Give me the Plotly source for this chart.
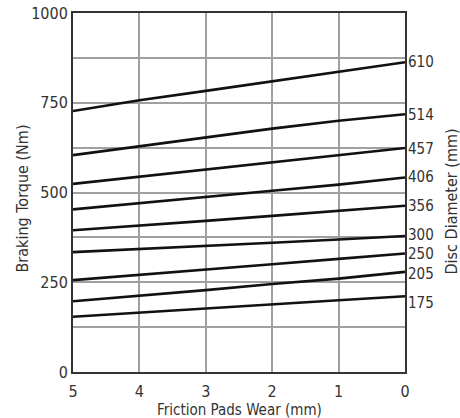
import plotly.graph_objects as go

wear = [5, 4, 3, 2, 1, 0]
diameters = ["610", "514", "457", "406", "356", "300", "250", "205", "175"]
torque_610 = [727, 757, 783, 810, 838, 863]
torque_514 = [604, 629, 653, 678, 700, 718]
torque_457 = [524, 544, 563, 583, 602, 624]
torque_406 = [453, 471, 488, 505, 522, 542]
torque_356 = [395, 407, 421, 435, 448, 463]
torque_300 = [334, 342, 351, 360, 369, 379]
torque_250 = [256, 270, 285, 300, 315, 330]
torque_205 = [197, 212, 228, 245, 260, 279]
torque_175 = [154, 166, 177, 188, 200, 211]
series = [torque_610, torque_514, torque_457, torque_406, torque_356,
          torque_300, torque_250, torque_205, torque_175]
y_tickvals = [0, 125, 250, 375, 500, 625, 750, 875, 1000]
y_ticktext = ["0", "", "250", "", "500", "", "750", "", "1000"]
x_tickvals = [5, 4, 3, 2, 1, 0]

FONT = "DejaVu Sans Condensed, sans-serif"
TXT = "#333333"
label_shift = [0, -1, -1, 0, 0, 1, 0, -2, -7]

fig = go.Figure()
for name, vals in zip(diameters, series):
    fig.add_trace(go.Scatter(x=wear, y=vals, mode="lines", name=name,
                             line=dict(color="#111111", width=2.6),
                             showlegend=False, hoverinfo="skip"))

for name, vals, sh in zip(diameters, series, label_shift):
    fig.add_annotation(x=0, y=vals[-1], text=name, showarrow=False,
                       xanchor="left", yanchor="middle", xshift=1, yshift=sh,
                       font=dict(family=FONT, size=15, color=TXT))

fig.add_annotation(xref="paper", yref="paper", x=1.0, y=0.5, xshift=46, yshift=-9,
                   text="Disc Diameter (mm)", textangle=-90, showarrow=False,
                   xanchor="center", yanchor="middle",
                   font=dict(family=FONT, size=16, color=TXT))
fig.add_annotation(xref="paper", yref="paper", x=0.0, y=0.5, xshift=-51, yshift=-6,
                   text="Braking Torque (Nm)", textangle=-90, showarrow=False,
                   xanchor="center", yanchor="middle",
                   font=dict(family=FONT, size=16, color=TXT))
fig.add_annotation(xref="paper", yref="paper", x=0.5, y=0.0, yshift=-38,
                   text="Friction Pads Wear (mm)", showarrow=False,
                   xanchor="center", yanchor="middle",
                   font=dict(family=FONT, size=15, color=TXT))

fig.update_xaxes(range=[5, 0], tickvals=x_tickvals, automargin=False,
                 showgrid=True, gridcolor="#a0a0a0", gridwidth=2,
                 showline=True, linecolor="#333333", linewidth=2, mirror=True,
                 zeroline=False, ticks="outside", ticklen=4, tickcolor="rgba(0,0,0,0)",
                 tickfont=dict(family=FONT, size=16, color=TXT))
fig.update_yaxes(range=[0, 1000], tickvals=y_tickvals, ticktext=y_ticktext,
                 automargin=False,
                 showgrid=True, gridcolor="#a0a0a0", gridwidth=2,
                 showline=True, linecolor="#333333", linewidth=2, mirror=True,
                 zeroline=False, ticks="",
                 tickfont=dict(family=FONT, size=16, color=TXT))

fig.update_layout(width=460, height=418, plot_bgcolor="white", paper_bgcolor="white",
                  margin=dict(l=73, r=55, t=13, b=46), showlegend=False)

# remove the default page margin so the figure fills the window exactly
fig.write_html("out.html", config={"displayModeBar": False},
               post_script="document.body.style.margin='0';document.body.style.overflow='hidden';")
